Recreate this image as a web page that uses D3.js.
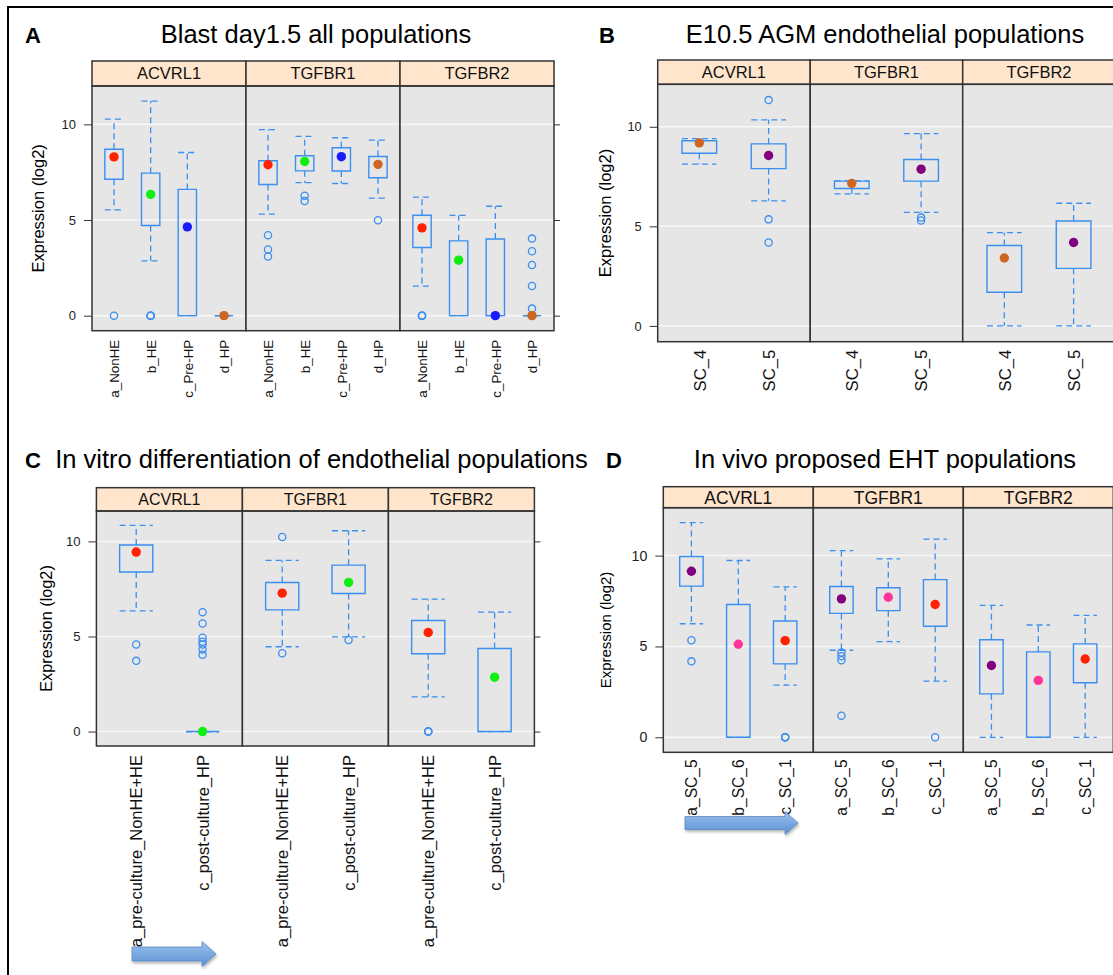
<!DOCTYPE html>
<html><head><meta charset="utf-8">
<script src="https://cdn.jsdelivr.net/npm/d3@7"></script>
<style>
body{margin:0;background:#fff}
svg{display:block;font-family:"Liberation Sans",Arial,Helvetica,sans-serif}
</style>
</head><body><svg id="chart" width="1113" height="975"></svg>
<script>
// ---------------- DATA ----------------
const genes = ["ACVRL1","TGFBR1","TGFBR2"];
const yTicks = [0,5,10];

// Each box: [lower whisker, Q1, median, Q3, upper whisker]; indexed [gene][category]
const catsA = ["a_NonHE","b_HE","c_Pre-HP","d_HP"];
const colorsA = ["#ff2200","#11ee11","#1a1aff","#cc6622"];
const boxesA = [
  [[5.53,7.13,8.30,8.70,10.27],[2.86,4.71,6.34,7.45,11.22],[0,0,4.64,6.60,8.53],[0,0,0,0,0]],
  [[5.31,6.86,7.89,8.10,9.72],[6.95,7.57,8.06,8.36,9.37],[6.91,7.56,8.31,8.78,9.30],[6.14,7.21,7.91,8.32,9.18]],
  [[1.54,3.56,4.59,5.25,6.20],[0,0,2.90,3.91,5.24],[0,0,0,4.01,5.72],[0,0,0,0,0]]
];
const outliersA = [
  [[0],[0,0,0],[],[]],
  [[4.21,3.46,3.09],[6.27,5.99],[],[4.99]],
  [[0,0,0],[],[],[4.03,3.37,2.65,1.55,0.37]]
];

const catsB = ["SC_4","SC_5"];
const colorsB = ["#cc6622","#800080"];
const boxesB = [
  [[8.12,8.67,9.19,9.30,9.41],[6.28,7.90,8.56,9.14,10.35]],
  [[6.63,6.90,7.16,7.27,7.28],[5.70,7.27,7.87,8.36,9.66]],
  [[0,1.69,3.41,4.04,4.68],[0,2.89,4.19,5.27,6.16]]
];
const outliersB = [
  [[],[11.34,5.35,4.19]],
  [[],[5.44,5.29]],
  [[],[]]
];

const catsC = ["a_pre-culture_NonHE+HE","c_post-culture_HP"];
const colorsC = ["#ff2200","#11ee11"];
const boxesC = [
  [[6.35,8.39,9.44,9.81,10.84],[0,0,0,0,0]],
  [[4.46,6.40,7.28,7.84,9.00],[4.98,7.26,7.84,8.75,10.56]],
  [[1.82,4.09,5.21,5.84,6.96],[0,0,2.86,4.37,6.28]]
];
const outliersC = [
  [[4.58,3.72],[6.28,5.68,4.93,4.72,4.58,4.32,4.04]],
  [[10.23,4.12],[4.82]],
  [[0,0,0],[]]
];

const catsD = ["a_SC_5","b_SC_6","c_SC_1"];
const colorsD = ["#800080","#ff3399","#ff2200"];
const boxesD = [
  [[6.25,8.32,9.14,9.95,11.81],[0,0,5.12,7.31,9.73],[2.87,4.04,5.32,6.40,8.28]],
  [[4.79,6.82,7.62,8.30,10.27],[5.27,6.97,7.71,8.23,9.82],[3.09,6.11,7.31,8.68,10.91]],
  [[0,2.39,3.95,5.37,7.26],[0,0,3.13,4.70,6.18],[0,3.00,4.31,5.14,6.71]]
];
const outliersD = [
  [[5.34,4.18],[],[0,0,0]],
  [[4.66,4.46,4.24,1.19],[],[0]],
  [[],[],[]]
];

const titles = ["Blast day1.5 all populations","E10.5 AGM endothelial populations",
                "In vitro differentiation of endothelial populations","In vivo proposed EHT populations"];
const letters = ["A","B","C","D"];
const yTitle = "Expression (log2)";

// ---------------- LAYOUT ----------------
const svg = d3.select("#chart");
const BOX = "#3a8ff0";

// outer frame
svg.append("line").attr("x1",8).attr("y1",7).attr("x2",1113).attr("y2",7).attr("stroke","#000").attr("stroke-width",2);
svg.append("line").attr("x1",8).attr("y1",6).attr("x2",8).attr("y2",975).attr("stroke","#000").attr("stroke-width",2);

const layouts = [
  {left:92, facetW:154, stripTop:61, stripBot:86, bottom:330.7, titleX:316, titleY:43, letterX:25,
   tickFont:13, stripFont:16.5, ylabX:38, ylabFont:16.5, labFont:13.4, labGap:9},
  {left:657.7, facetW:152.5, stripTop:60, stripBot:84.3, bottom:341.7, titleX:885, titleY:43, letterX:599,
   tickFont:12.8, stripFont:16.5, ylabX:605, ylabFont:16.5, labFont:16.7, labGap:8},
  {left:96.4, facetW:146, stripTop:487.7, stripBot:511, bottom:746, titleX:321.5, titleY:468, letterX:25,
   tickFont:13, stripFont:16, ylabX:46, ylabFont:16.3, labFont:16.5, labGap:9},
  {left:663.3, facetW:150, stripTop:486.7, stripBot:507.7, bottom:752.3, titleX:885, titleY:468, letterX:606,
   tickFont:14.2, stripFont:17.5, ylabX:606, ylabFont:15, labFont:15.6, labGap:7}
];

function drawPanel(p, L, cats, colors, boxes, outliers) {
  const g = svg.append("g");
  const allVals = boxes.flat(2).concat(outliers.flat(2));
  const mn = d3.min(allVals), mx = d3.max(allVals), ext = (mx - mn) * 0.07;
  const y = d3.scaleLinear().domain([mn - ext, mx + ext]).range([L.bottom, L.stripBot]);

  // titles
  g.append("text").attr("x", L.letterX).attr("y", L.titleY).attr("font-size", 22).attr("font-weight","bold")
    .text(letters[p]);
  g.append("text").attr("x", L.titleX).attr("y", L.titleY).attr("font-size", 25.5).attr("text-anchor","middle")
    .text(titles[p]);
  // y title
  g.append("text").attr("transform", `translate(${L.ylabX},${(L.stripBot + L.bottom)/2}) rotate(-90)`)
    .attr("text-anchor","middle").attr("dy","0.35em").attr("font-size", L.ylabFont).text(yTitle);

  // y axes
  const ax = g.append("g").attr("transform", `translate(${L.left},0)`)
    .call(d3.axisLeft(y).tickValues(yTicks).tickSize(8).tickPadding(8));
  ax.select(".domain").remove();
  ax.selectAll("line").attr("stroke","#333");
  ax.selectAll("text").attr("font-size", L.tickFont).attr("fill","#222").attr("font-family",null);
  const right = L.left + L.facetW * genes.length;
  const axr = g.append("g").attr("transform", `translate(${right},0)`)
    .call(d3.axisRight(y).tickValues(yTicks).tickSize(6).tickFormat(""));
  axr.select(".domain").remove();
  axr.selectAll("line").attr("stroke","#333");

  genes.forEach((gene, fi) => {
    const fx0 = L.left + fi * L.facetW;
    const x = d3.scaleLinear().domain([0.4, cats.length + 0.6]).range([fx0, fx0 + L.facetW]);
    const fg = g.append("g");
    fg.append("rect").attr("x", fx0).attr("y", L.stripBot).attr("width", L.facetW)
      .attr("height", L.bottom - L.stripBot).attr("fill", "#e6e6e6");
    yTicks.forEach(t => fg.append("line").attr("x1", fx0).attr("x2", fx0 + L.facetW)
      .attr("y1", y(t)).attr("y2", y(t)).attr("stroke", "#f8f8f8").attr("stroke-width", 1.5));
    // strip
    fg.append("rect").attr("x", fx0).attr("y", L.stripTop).attr("width", L.facetW)
      .attr("height", L.stripBot - L.stripTop).attr("fill", "#ffe5cc").attr("stroke", "#333").attr("stroke-width", 1.5);
    fg.append("text").attr("x", fx0 + L.facetW/2).attr("y", (L.stripTop + L.stripBot)/2)
      .attr("dy", "0.36em").attr("text-anchor", "middle").attr("font-size", L.stripFont).attr("fill","#111").text(gene);

    const hw = (x(1.25) - x(1));
    cats.forEach((c, ci) => {
      const b = boxes[fi][ci];
      const cx = x(ci + 1);
      const dash = "6,4";
      // whiskers
      fg.append("line").attr("x1", cx).attr("x2", cx).attr("y1", y(b[3])).attr("y2", y(b[4]))
        .attr("stroke", BOX).attr("stroke-width", 1.3).attr("stroke-dasharray", dash);
      fg.append("line").attr("x1", cx).attr("x2", cx).attr("y1", y(b[1])).attr("y2", y(b[0]))
        .attr("stroke", BOX).attr("stroke-width", 1.3).attr("stroke-dasharray", dash);
      [b[0], b[4]].forEach(v => fg.append("line").attr("x1", cx - hw).attr("x2", cx + hw)
        .attr("y1", y(v)).attr("y2", y(v)).attr("stroke", BOX).attr("stroke-width", 1.3)
        .attr("stroke-dasharray", dash));
      // box
      fg.append("path").attr("d", `M${cx-hw},${y(b[1])}H${cx+hw}V${y(b[3])}H${cx-hw}Z`)
        .attr("fill", "none").attr("stroke", BOX).attr("stroke-width", 1.4);
      // outliers
      outliers[fi][ci].forEach(v => fg.append("circle").attr("cx", cx).attr("cy", y(v)).attr("r", 3.6)
        .attr("fill", "none").attr("stroke", BOX).attr("stroke-width", 1.3));
      // median dot
      fg.append("circle").attr("cx", cx).attr("cy", y(b[2])).attr("r", 4.7).attr("fill", colors[ci]);
    });
    // facet border
    fg.append("rect").attr("x", fx0).attr("y", L.stripBot).attr("width", L.facetW)
      .attr("height", L.bottom - L.stripBot).attr("fill", "none").attr("stroke", "#333").attr("stroke-width", 1.5);

    // x labels
    const xa = fg.append("g").attr("transform", `translate(0,${L.bottom})`)
      .call(d3.axisBottom(x).tickValues(d3.range(1, cats.length + 1)).tickSize(0).tickFormat(i => cats[i-1]));
    xa.select(".domain").remove();
    xa.selectAll("text").attr("font-size", L.labFont).attr("fill","#111").attr("font-family",null)
      .attr("transform", "rotate(-90)").attr("x", -L.labGap).attr("y", 0).attr("dy", "0.35em")
      .attr("text-anchor", "end");
  });
}

drawPanel(0, layouts[0], catsA, colorsA, boxesA, outliersA);
drawPanel(1, layouts[1], catsB, colorsB, boxesB, outliersB);
drawPanel(2, layouts[2], catsC, colorsC, boxesC, outliersC);
drawPanel(3, layouts[3], catsD, colorsD, boxesD, outliersD);

// arrows
const defs = svg.append("defs");
const grad = defs.append("linearGradient").attr("id","arrowGrad").attr("x1",0).attr("y1",0).attr("x2",0).attr("y2",1);
grad.append("stop").attr("offset","0%").attr("stop-color","#9cc2ee");
grad.append("stop").attr("offset","100%").attr("stop-color","#5a8fd2");
const shadow = defs.append("filter").attr("id","sh").attr("x","-20%").attr("y","-40%").attr("width","140%").attr("height","200%");
shadow.append("feDropShadow").attr("dx",1).attr("dy",2).attr("stdDeviation",1.5).attr("flood-color","#000").attr("flood-opacity",0.3);

function arrow(x1, x2, yc, sh, hh, hl) {
  const d = `M${x1},${yc-sh}H${x2-hl}V${yc-hh}L${x2},${yc}L${x2-hl},${yc+hh}V${yc+sh}H${x1}Z`;
  svg.append("path").attr("d", d).attr("fill","url(#arrowGrad)").attr("stroke","#5a88c4")
    .attr("stroke-width",0.8).attr("filter","url(#sh)");
}
arrow(132, 216, 954, 7, 12.5, 14);
arrow(685, 798, 823, 6.5, 11.5, 13);
</script>
</body></html>
